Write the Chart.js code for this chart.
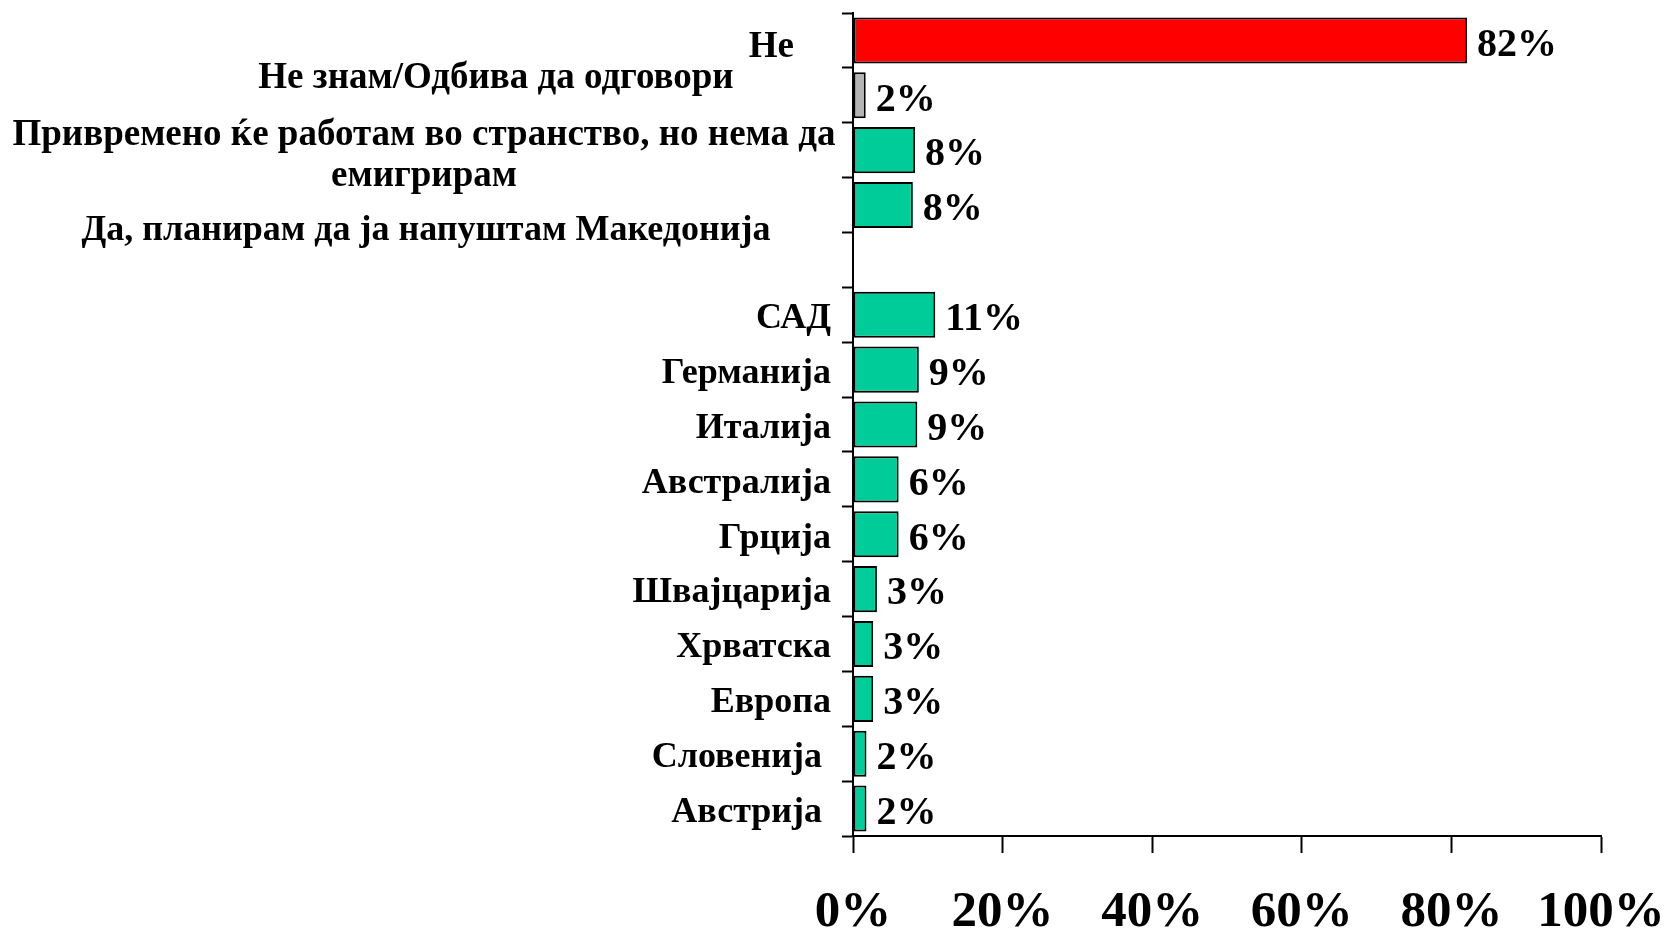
<!DOCTYPE html>
<html>
<head>
<meta charset="utf-8">
<script src="https://cdn.jsdelivr.net/npm/chart.js@4.4.1/dist/chart.umd.min.js"></script>
<style>
  html, body { margin: 0; padding: 0; background: #fff; }
  #wrap { width: 1671px; height: 928px; }
</style>
</head>
<body>
<div id="wrap"><canvas id="chart" width="1671" height="928"></canvas></div>
<script>
// Data (top to bottom)
const categories = [
    'Не',
    'Не знам/Одбива да одговори',
    ['Привремено ќе работам во странство, но нема да', 'емигрирам'],
    'Да, планирам да ја напуштам Македонија',
    '',
    'САД',
    'Германија',
    'Италија',
    'Австралија',
    'Грција',
    'Швајцарија',
    'Хрватска',
    'Европа',
    'Словенија ',
    'Австрија '
];
const values = [82.1, 1.7, 8.3, 8.0, null, 11.0, 8.8, 8.6, 6.1, 6.1, 3.2, 2.7, 2.7, 1.8, 1.8];
const xTicks = [0, 20, 40, 60, 80, 100];

const RED = '#ff0000';
const GREY = '#b4b4b4';
const GREEN = '#00cc99';
const barColors = [RED, GREY, GREEN, GREEN, GREEN, GREEN, GREEN, GREEN, GREEN, GREEN, GREEN, GREEN, GREEN, GREEN, GREEN];

const FONT = '"Liberation Serif", "Times New Roman", serif';

// where each category label sits (the first four are not aligned like the rest)
const labelPlace = [
    { align: 'right', x: 794, dy: 7, size: 37 },
    { align: 'center', x: 496, dy: -17, size: 37 },
    { align: 'center', x: 424, dy: 6, size: 37 },
    { align: 'center', x: 426, dy: 26, size: 36 }
];

const categoryLabels = {
    id: 'categoryLabels',
    afterDraw(chart) {
        const ctx = chart.ctx;
        const y = chart.scales.y;
        ctx.save();
        ctx.fillStyle = '#000';
        ctx.textBaseline = 'middle';
        categories.forEach((lab, i) => {
            const place = labelPlace[i] || { align: 'right', x: 831, dy: 4, size: 36 };
            const lines = Array.isArray(lab) ? lab : [lab];
            const lh = 41;
            const cy = y.getPixelForValue(i) + place.dy;
            ctx.font = 'bold ' + place.size + 'px ' + FONT;
            ctx.textAlign = place.align;
            lines.forEach((ln, k) => {
                const ly = cy + (k - (lines.length - 1) / 2) * lh;
                ctx.fillText(ln, place.x, ly);
            });
        });
        ctx.restore();
    }
};

const valueLabels = {
    id: 'valueLabels',
    afterDatasetsDraw(chart) {
        const ctx = chart.ctx;
        const meta = chart.getDatasetMeta(0);
        ctx.save();
        ctx.font = 'bold 40px ' + FONT;
        ctx.fillStyle = '#000';
        ctx.textAlign = 'left';
        ctx.textBaseline = 'middle';
        meta.data.forEach((bar, i) => {
            if (values[i] == null) return;
            ctx.fillText(Math.round(values[i]) + '%', bar.x + 10, bar.y + 5);
        });
        ctx.restore();
    }
};

new Chart(document.getElementById('chart').getContext('2d'), {
    type: 'bar',
    data: {
        labels: categories.map((c, i) => 'c' + i),
        datasets: [{
            data: values,
            backgroundColor: barColors,
            borderColor: '#000',
            borderWidth: 2,
            borderSkipped: false,
            barPercentage: 0.84,
            categoryPercentage: 1.0
        }]
    },
    options: {
        indexAxis: 'y',
        responsive: false,
        animation: false,
        devicePixelRatio: 1,
        layout: { padding: { top: 13, right: 70, left: 0, bottom: 0 } },
        plugins: {
            legend: { display: false },
            tooltip: { enabled: false }
        },
        scales: {
            x: {
                min: 0,
                max: 100,
                afterBuildTicks: (scale) => { scale.ticks = xTicks.map(v => ({ value: v })); },
                afterFit: (scale) => {
                    scale.height = 92;
                    scale.paddingLeft = 0;
                    scale.paddingRight = 0;
                },
                grid: {
                    drawOnChartArea: false,
                    drawTicks: true,
                    tickLength: 17,
                    tickWidth: 2,
                    color: '#000'
                },
                border: { display: true, color: '#000', width: 2 },
                ticks: {
                    callback: (v) => v + '%',
                    color: '#000',
                    padding: 29,
                    maxRotation: 0,
                    font: { family: FONT, size: 51, weight: 'bold' }
                }
            },
            y: {
                afterFit: (scale) => { scale.width = 853; },
                grid: {
                    offset: true,
                    drawOnChartArea: false,
                    drawTicks: true,
                    tickLength: 11,
                    tickWidth: 2,
                    color: '#000'
                },
                border: { display: true, color: '#000', width: 2 },
                ticks: { display: false }
            }
        }
    },
    plugins: [categoryLabels, valueLabels]
});
</script>
</body>
</html>
